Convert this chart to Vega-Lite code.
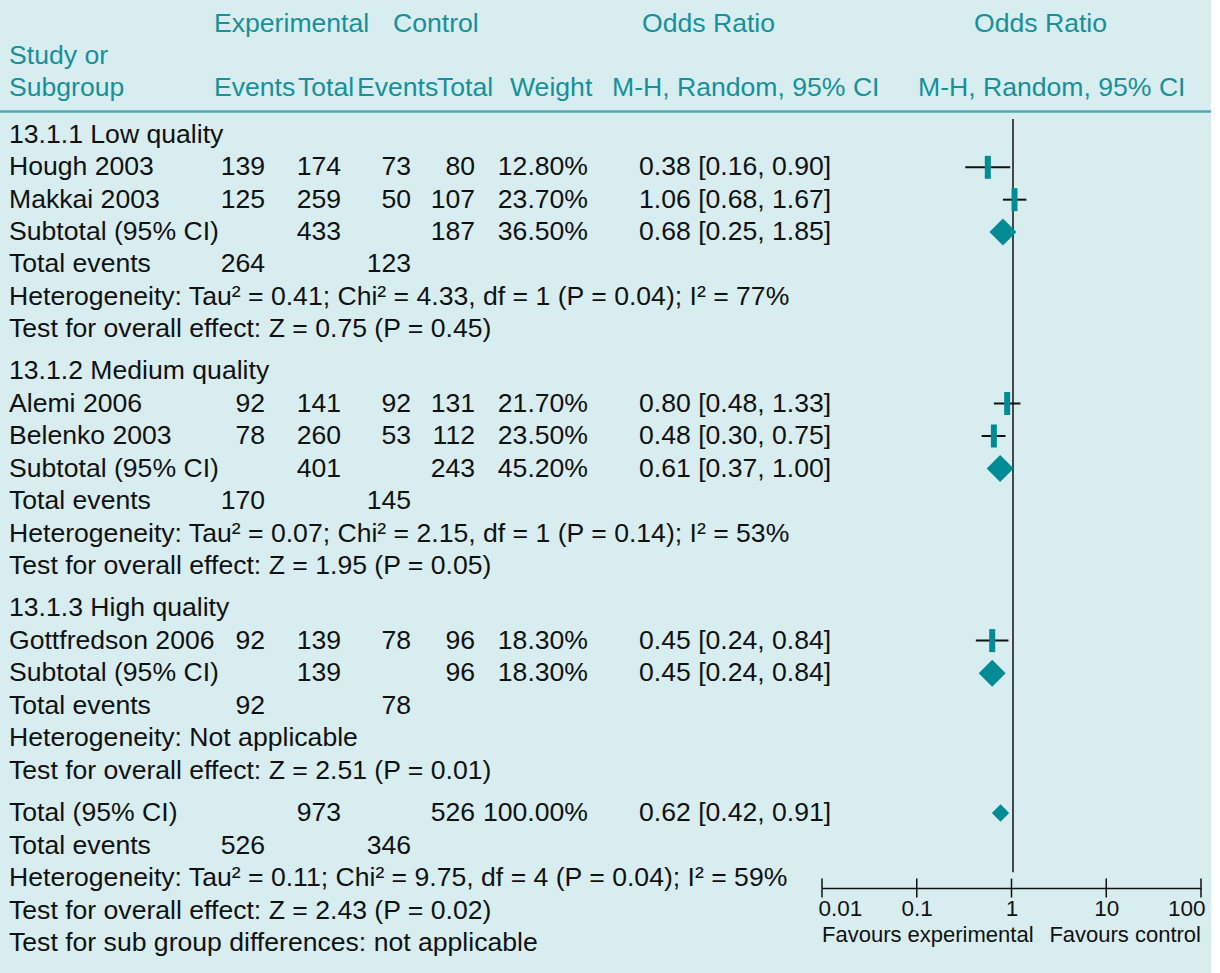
{
  "$schema": "https://vega.github.io/schema/vega-lite/v6.json",
  "width": 1211,
  "height": 973,
  "autosize": {"type": "none"},
  "padding": {"left": 0, "top": 0, "right": 9, "bottom": 0},
  "background": "#ffffff",
  "config": {
    "view": {"fill": "#d8edf0", "stroke": null},
    "text": {"font": "Liberation Sans", "fontSize": 26.6, "baseline": "middle"},
    "axis": {"labelFont": "Liberation Sans"}
  },
  "datasets": {
    "header": [
      {"row": -3, "col": 1, "label": "Experimental"},
      {"row": -3, "col": 4, "label": "Control"},
      {"row": -3, "col": 8, "label": "Odds Ratio"},
      {"row": -3, "col": 10, "label": "Odds Ratio"},
      {"row": -2, "col": 0, "label": "Study or"},
      {"row": -1, "col": 0, "label": "Subgroup"},
      {"row": -1, "col": 1, "label": "Events"},
      {"row": -1, "col": 2, "label": "Total"},
      {"row": -1, "col": 3, "label": "Events"},
      {"row": -1, "col": 5, "label": "Total"},
      {"row": -1, "col": 6, "label": "Weight"},
      {"row": -1, "col": 7, "label": "M-H, Random, 95% CI"},
      {"row": -1, "col": 9, "label": "M-H, Random, 95% CI"}
    ],
    "table": [
      {"row": 0, "kind": "heading", "label": "13.1.1 Low quality"},
      {"row": 1, "kind": "study", "label": "Hough 2003", "expEv": 139, "expTot": 174, "ctlEv": 73, "ctlTot": 80, "weight": 0.128, "ci": "0.38 [0.16, 0.90]", "or": 0.38, "lo": 0.16, "hi": 0.90},
      {"row": 2, "kind": "study", "label": "Makkai 2003", "expEv": 125, "expTot": 259, "ctlEv": 50, "ctlTot": 107, "weight": 0.237, "ci": "1.06 [0.68, 1.67]", "or": 1.06, "lo": 0.68, "hi": 1.67},
      {"row": 3, "kind": "subtotal", "label": "Subtotal (95% CI)", "expTot": 433, "ctlTot": 187, "weight": 0.365, "ci": "0.68 [0.25, 1.85]", "or": 0.68, "lo": 0.25, "hi": 1.85},
      {"row": 4, "kind": "events", "label": "Total events", "expEv": 264, "ctlEv": 123},
      {"row": 5, "kind": "note", "label": "Heterogeneity: Tau² = 0.41; Chi² = 4.33, df = 1 (P = 0.04); I² = 77%"},
      {"row": 6, "kind": "note", "label": "Test for overall effect: Z = 0.75 (P = 0.45)"},
      {"row": 7, "kind": "heading", "label": "13.1.2 Medium quality"},
      {"row": 8, "kind": "study", "label": "Alemi 2006", "expEv": 92, "expTot": 141, "ctlEv": 92, "ctlTot": 131, "weight": 0.217, "ci": "0.80 [0.48, 1.33]", "or": 0.80, "lo": 0.48, "hi": 1.33},
      {"row": 9, "kind": "study", "label": "Belenko 2003", "expEv": 78, "expTot": 260, "ctlEv": 53, "ctlTot": 112, "weight": 0.235, "ci": "0.48 [0.30, 0.75]", "or": 0.48, "lo": 0.30, "hi": 0.75},
      {"row": 10, "kind": "subtotal", "label": "Subtotal (95% CI)", "expTot": 401, "ctlTot": 243, "weight": 0.452, "ci": "0.61 [0.37, 1.00]", "or": 0.61, "lo": 0.37, "hi": 1.00},
      {"row": 11, "kind": "events", "label": "Total events", "expEv": 170, "ctlEv": 145},
      {"row": 12, "kind": "note", "label": "Heterogeneity: Tau² = 0.07; Chi² = 2.15, df = 1 (P = 0.14); I² = 53%"},
      {"row": 13, "kind": "note", "label": "Test for overall effect: Z = 1.95 (P = 0.05)"},
      {"row": 14, "kind": "heading", "label": "13.1.3 High quality"},
      {"row": 15, "kind": "study", "label": "Gottfredson 2006", "expEv": 92, "expTot": 139, "ctlEv": 78, "ctlTot": 96, "weight": 0.183, "ci": "0.45 [0.24, 0.84]", "or": 0.45, "lo": 0.24, "hi": 0.84},
      {"row": 16, "kind": "subtotal", "label": "Subtotal (95% CI)", "expTot": 139, "ctlTot": 96, "weight": 0.183, "ci": "0.45 [0.24, 0.84]", "or": 0.45, "lo": 0.24, "hi": 0.84},
      {"row": 17, "kind": "events", "label": "Total events", "expEv": 92, "ctlEv": 78},
      {"row": 18, "kind": "note", "label": "Heterogeneity: Not applicable"},
      {"row": 19, "kind": "note", "label": "Test for overall effect: Z = 2.51 (P = 0.01)"},
      {"row": 20, "kind": "total", "label": "Total (95% CI)", "expTot": 973, "ctlTot": 526, "weight": 1.0, "ci": "0.62 [0.42, 0.91]", "or": 0.62, "lo": 0.42, "hi": 0.91},
      {"row": 21, "kind": "events", "label": "Total events", "expEv": 526, "ctlEv": 346},
      {"row": 22, "kind": "note", "label": "Heterogeneity: Tau² = 0.11; Chi² = 9.75, df = 4 (P = 0.04); I² = 59%"},
      {"row": 23, "kind": "note", "label": "Test for overall effect: Z = 2.43 (P = 0.02)"},
      {"row": 24, "kind": "note", "label": "Test for sub group differences: not applicable"}
    ],
    "axisTicks": [{"v": 0.01}, {"v": 0.1}, {"v": 1}, {"v": 10}, {"v": 100}]
  },
  "layer": [
    {
      "data": {"name": "header"},
      "mark": {"type": "text", "align": "left", "color": "#16909a"},
      "encoding": {
        "x": {"field": "col", "type": "quantitative", "axis": null,
              "scale": {"domain": [0,1,2,3,4,5,6,7,8,9,10], "range": [9,214,298,357,393,437,510,612,642,918,974], "nice": false, "zero": false}},
        "y": {"field": "row", "type": "quantitative", "axis": null,
              "scale": {"domain": [-3,-1,0,6,7,13,14,19,20,24], "range": [24,88,135,329,371,566,608,771,813,943], "nice": false, "zero": false}},
        "text": {"field": "label"}
      }
    },
    {
      "data": {"values": [{}]},
      "mark": {"type": "rule", "color": "#4aaab5", "strokeWidth": 2.5},
      "encoding": {
        "y": {"datum": -0.5, "type": "quantitative", "axis": null,
              "scale": {"domain": [-3,-1,0,6,7,13,14,19,20,24], "range": [24,88,135,329,371,566,608,771,813,943], "nice": false, "zero": false}}
      }
    },
    {
      "data": {"name": "table"},
      "encoding": {
        "y": {"field": "row", "type": "quantitative", "axis": null,
              "scale": {"domain": [-3,-1,0,6,7,13,14,19,20,24], "range": [24,88,135,329,371,566,608,771,813,943], "nice": false, "zero": false}}
      },
      "layer": [
        {
          "mark": {"type": "text", "align": "left", "color": "#111111"},
          "encoding": {
            "x": {"datum": 0, "type": "quantitative", "axis": null, "scale": {"domain": [0,1,2,3,4,5,6], "range": [9,265,341,411,475,588,639], "nice": false, "zero": false}},
            "text": {"field": "label"}
          }
        },
        {
          "transform": [{"filter": "datum.expEv != null"}],
          "mark": {"type": "text", "align": "right", "color": "#111111"},
          "encoding": {
            "x": {"datum": 1, "type": "quantitative", "axis": null, "scale": {"domain": [0,1,2,3,4,5,6], "range": [9,265,341,411,475,588,639], "nice": false, "zero": false}},
            "text": {"field": "expEv", "type": "nominal"}
          }
        },
        {
          "transform": [{"filter": "datum.expTot != null"}],
          "mark": {"type": "text", "align": "right", "color": "#111111"},
          "encoding": {
            "x": {"datum": 2, "type": "quantitative", "axis": null, "scale": {"domain": [0,1,2,3,4,5,6], "range": [9,265,341,411,475,588,639], "nice": false, "zero": false}},
            "text": {"field": "expTot", "type": "nominal"}
          }
        },
        {
          "transform": [{"filter": "datum.ctlEv != null"}],
          "mark": {"type": "text", "align": "right", "color": "#111111"},
          "encoding": {
            "x": {"datum": 3, "type": "quantitative", "axis": null, "scale": {"domain": [0,1,2,3,4,5,6], "range": [9,265,341,411,475,588,639], "nice": false, "zero": false}},
            "text": {"field": "ctlEv", "type": "nominal"}
          }
        },
        {
          "transform": [{"filter": "datum.ctlTot != null"}],
          "mark": {"type": "text", "align": "right", "color": "#111111"},
          "encoding": {
            "x": {"datum": 4, "type": "quantitative", "axis": null, "scale": {"domain": [0,1,2,3,4,5,6], "range": [9,265,341,411,475,588,639], "nice": false, "zero": false}},
            "text": {"field": "ctlTot", "type": "nominal"}
          }
        },
        {
          "transform": [{"filter": "datum.weight != null"}],
          "mark": {"type": "text", "align": "right", "color": "#111111"},
          "encoding": {
            "x": {"datum": 5, "type": "quantitative", "axis": null, "scale": {"domain": [0,1,2,3,4,5,6], "range": [9,265,341,411,475,588,639], "nice": false, "zero": false}},
            "text": {"field": "weight", "type": "quantitative", "format": ".2%"}
          }
        },
        {
          "transform": [{"filter": "datum.ci != null"}],
          "mark": {"type": "text", "align": "left", "color": "#111111"},
          "encoding": {
            "x": {"datum": 6, "type": "quantitative", "axis": null, "scale": {"domain": [0,1,2,3,4,5,6], "range": [9,265,341,411,475,588,639], "nice": false, "zero": false}},
            "text": {"field": "ci", "type": "nominal"}
          }
        }
      ]
    },
    {
      "data": {"name": "table"},
      "layer": [
        {
          "data": {"values": [{}]},
          "mark": {"type": "rule", "color": "#474747", "strokeWidth": 2},
          "encoding": {
            "x": {"datum": 1, "type": "quantitative", "axis": null, "scale": {"type": "log", "domain": [0.01, 100], "range": [893, 1133], "nice": false, "zero": false}},
            "y": {"datum": -0.34, "type": "quantitative", "axis": null, "scale": {"domain": [-3,-1,0,6,7,13,14,19,20,24], "range": [24,88,135,329,371,566,608,771,813,943], "nice": false, "zero": false}},
            "y2": {"datum": 21.82}
          }
        },
        {
          "transform": [{"filter": {"field": "kind", "equal": "study"}}],
          "mark": {"type": "rule", "color": "#111111", "strokeWidth": 2},
          "encoding": {
            "x": {"field": "lo", "type": "quantitative", "axis": null, "scale": {"type": "log", "domain": [0.01, 100], "range": [893, 1133], "nice": false, "zero": false}},
            "x2": {"field": "hi"},
            "y": {"field": "row", "type": "quantitative", "axis": null, "scale": {"domain": [-3,-1,0,6,7,13,14,19,20,24], "range": [24,88,135,329,371,566,608,771,813,943], "nice": false, "zero": false}}
          }
        },
        {
          "transform": [{"filter": {"field": "kind", "equal": "study"}}],
          "mark": {"type": "tick", "orient": "vertical", "thickness": 6, "size": 23, "color": "#008b95", "opacity": 1},
          "encoding": {
            "x": {"field": "or", "type": "quantitative", "axis": null, "scale": {"type": "log", "domain": [0.01, 100], "range": [893, 1133], "nice": false, "zero": false}},
            "y": {"field": "row", "type": "quantitative", "axis": null, "scale": {"domain": [-3,-1,0,6,7,13,14,19,20,24], "range": [24,88,135,329,371,566,608,771,813,943], "nice": false, "zero": false}}
          }
        },
        {
          "transform": [{"filter": {"field": "kind", "oneOf": ["subtotal", "total"]}}],
          "mark": {"type": "point", "shape": "diamond", "filled": true, "color": "#008b95", "opacity": 1},
          "encoding": {
            "x": {"field": "or", "type": "quantitative", "axis": null, "scale": {"type": "log", "domain": [0.01, 100], "range": [893, 1133], "nice": false, "zero": false}},
            "y": {"field": "row", "type": "quantitative", "axis": null, "scale": {"domain": [-3,-1,0,6,7,13,14,19,20,24], "range": [24,88,135,329,371,566,608,771,813,943], "nice": false, "zero": false}},
            "size": {"field": "kind", "type": "nominal", "legend": null, "scale": {"domain": ["subtotal", "total"], "range": [729, 300]}}
          }
        }
      ]
    },
    {
      "layer": [
        {
          "data": {"name": "axisTicks"},
          "mark": {"type": "tick", "orient": "vertical", "size": 19, "thickness": 1.5, "color": "#111111", "opacity": 1},
          "encoding": {
            "x": {"field": "v", "type": "quantitative",
                  "scale": {"type": "log", "domain": [0.01, 100], "range": [822, 1201], "nice": false, "zero": false},
                  "axis": {"orient": "bottom", "offset": -85, "values": [0.01, 0.1, 1, 10, 100], "format": "~g", "labelFlush": true, "labelFlushOffset": 4, "ticks": false, "tickSize": 0, "grid": false, "domain": true, "domainColor": "#111111", "domainWidth": 1.5, "labelFontSize": 22.5, "labelColor": "#111111", "labelPadding": 9, "title": null}},
            "y": {"datum": 22.31, "type": "quantitative", "axis": null, "scale": {"domain": [-3,-1,0,6,7,13,14,19,20,24], "range": [24,88,135,329,371,566,608,771,813,943], "nice": false, "zero": false}}
          }
        },
        {
          "data": {"values": [{}]},
          "mark": {"type": "text", "align": "left", "fontSize": 22, "color": "#111111"},
          "encoding": {
            "x": {"datum": 0.01, "type": "quantitative"},
            "y": {"datum": 23.74, "type": "quantitative", "axis": null, "scale": {"domain": [-3,-1,0,6,7,13,14,19,20,24], "range": [24,88,135,329,371,566,608,771,813,943], "nice": false, "zero": false}},
            "text": {"value": "Favours experimental"}
          }
        },
        {
          "data": {"values": [{}]},
          "mark": {"type": "text", "align": "right", "fontSize": 22, "color": "#111111"},
          "encoding": {
            "x": {"datum": 100, "type": "quantitative"},
            "y": {"datum": 23.74, "type": "quantitative", "axis": null, "scale": {"domain": [-3,-1,0,6,7,13,14,19,20,24], "range": [24,88,135,329,371,566,608,771,813,943], "nice": false, "zero": false}},
            "text": {"value": "Favours control"}
          }
        }
      ]
    }
  ],
  "resolve": {"scale": {"x": "independent"}, "axis": {"x": "independent"}}
}
